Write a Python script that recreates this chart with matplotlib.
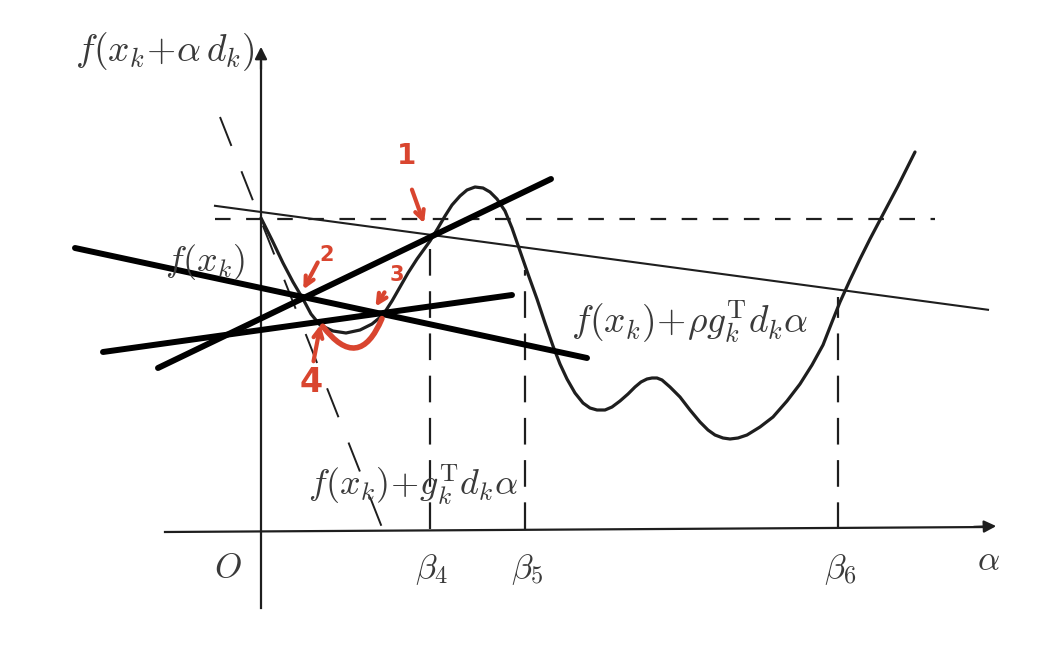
import matplotlib.pyplot as plt

plt.rcParams['mathtext.fontset'] = 'cm'

# diagram units: alpha to the right of O, f above the alpha axis (1 unit = 100 px)
curve_a = [0.00, 0.11, 0.22, 0.32, 0.42, 0.50, 0.59, 0.72, 0.85, 0.99, 1.11, 1.22,
           1.31, 1.39, 1.47, 1.56, 1.69, 1.77, 1.84, 1.91, 1.99, 2.06, 2.14, 2.22,
           2.29, 2.36, 2.44, 2.51, 2.59, 2.67, 2.76, 2.84, 2.92, 2.99, 3.06, 3.14,
           3.22, 3.29, 3.36, 3.44, 3.51, 3.59, 3.67, 3.74, 3.80, 3.86, 3.91, 3.96,
           4.01, 4.09, 4.19, 4.29, 4.39, 4.47, 4.54, 4.62, 4.69, 4.77, 4.86, 4.99,
           5.12, 5.26, 5.39, 5.51, 5.62, 5.71, 5.79, 5.89, 5.99, 6.09, 6.19, 6.37, 6.54]
curve_f = [3.14, 2.92, 2.69, 2.50, 2.33, 2.18, 2.07, 2.01, 1.99, 2.02, 2.08, 2.17,
           2.31, 2.45, 2.59, 2.73, 2.91, 3.04, 3.16, 3.27, 3.36, 3.42, 3.45, 3.44,
           3.40, 3.33, 3.21, 3.04, 2.81, 2.58, 2.33, 2.09, 1.86, 1.68, 1.53, 1.39,
           1.29, 1.24, 1.22, 1.22, 1.25, 1.31, 1.38, 1.45, 1.50, 1.53, 1.54, 1.54,
           1.52, 1.45, 1.35, 1.22, 1.10, 1.02, 0.97, 0.94, 0.93, 0.94, 0.97, 1.05,
           1.15, 1.31, 1.48, 1.67, 1.87, 2.10, 2.30, 2.52, 2.73, 2.93, 3.12, 3.46, 3.80]

f0 = 3.13            # f(x_k)
rho_slope = -0.1345  # slope of f(x_k) + rho g^T d alpha
tan_a = [-0.41, 1.22]   # tangent line f(x_k) + g^T d alpha
tan_f = [4.15, 0.02]
beta_a = [1.69, 2.64, 5.77]
beta_top = [2.90, 2.62, 2.35]
beta_names = [r'$\beta_4$', r'$\beta_5$', r'$\beta_6$']

# hand-drawn black strokes and red notes
stroke_a = [[-1.86, 3.26], [-1.03, 2.90], [-1.58, 2.51]]
stroke_f = [[2.84, 1.74], [1.64, 3.53], [1.80, 2.37]]
red = '#d9452f'
gray = '#1e1e1e'
txt = '#3a3a3a'

fig = plt.figure(figsize=(10.62, 6.59), dpi=100)
ax = fig.add_axes([0, 0, 1, 1])
ax.set_xlim(-2.61, 8.01)
ax.set_ylim(-1.27, 5.32)
ax.axis('off')

# axes with arrows
ax.plot([-0.96, 7.30], [0.0, 0.05], color=gray, lw=1.6)
ax.annotate('', xy=(7.38, 0.06), xytext=(7.10, 0.05),
            arrowprops=dict(arrowstyle='-|>', color=gray, lw=1.6, mutation_scale=18))
ax.plot([0, 0], [-0.76, 4.70], color=gray, lw=1.6)
ax.annotate('', xy=(0, 4.88), xytext=(0, 4.60),
            arrowprops=dict(arrowstyle='-|>', color=gray, lw=1.6, mutation_scale=18))

# f(x_k) level and sufficient-decrease line
ax.plot([-0.46, 6.74], [f0, f0], color=gray, lw=1.6, dashes=(7, 7))
ax.plot([-0.46, 7.27], [f0 + 0.07 - rho_slope * 0.46, f0 + 0.07 + rho_slope * 7.27],
        color=gray, lw=1.5)
ax.plot(tan_a, tan_f, color=gray, lw=1.4, dashes=(16, 14))

for a, top in zip(beta_a, beta_top):
    ax.plot([a, a], [0.03, top], color=gray, lw=1.6, dashes=(12, 7))

ax.plot(curve_a, curve_f, color=gray, lw=2.3, solid_capstyle='round',
        solid_joinstyle='round')

# labels
ax.text(-0.96, 4.80, r'$f(x_k\!+\!\alpha\, d_k)$', fontsize=27, color=txt, ha='center', va='center')
ax.text(-0.56, 2.70, r'$f(x_k)$', fontsize=26, color=txt, ha='center', va='center')
ax.text(-0.33, -0.35, r'$O$', fontsize=25, color=txt, ha='center', va='center')
for a, name in zip(beta_a, beta_names):
    ax.text(a + 0.02, -0.38, name, fontsize=25, color=txt, ha='center', va='center')
ax.text(7.27, -0.28, r'$\alpha$', fontsize=25, color=txt, ha='center', va='center')
ax.text(4.29, 2.10, r'$f(x_k)\!+\!\rho g_k^{\rm T}d_k\alpha$', fontsize=27, color=txt,
        ha='center', va='center')
ax.text(1.52, 0.47, r'$f(x_k)\!+\!g_k^{\rm T}d_k\alpha$', fontsize=26, color=txt,
        ha='center', va='center')

for xs, ys in zip(stroke_a, stroke_f):
    ax.plot(xs, ys, color='black', lw=4.3, solid_capstyle='round')

# red notes
ax.annotate('', xy=(1.64, 3.06), xytext=(1.50, 3.45),
            arrowprops=dict(arrowstyle='->', color=red, lw=3, mutation_scale=16))
ax.annotate('', xy=(0.41, 2.40), xytext=(0.58, 2.72),
            arrowprops=dict(arrowstyle='->', color=red, lw=3, mutation_scale=16))
ax.annotate('', xy=(1.13, 2.23), xytext=(1.25, 2.42),
            arrowprops=dict(arrowstyle='->', color=red, lw=3, mutation_scale=16))
ax.annotate('', xy=(0.60, 2.10), xytext=(0.52, 1.68),
            arrowprops=dict(arrowstyle='->', color=red, lw=3, mutation_scale=16))
ax.annotate('', xy=(1.22, 2.16), xytext=(0.60, 2.08),
            arrowprops=dict(arrowstyle='-', color=red, lw=4,
                            connectionstyle='arc3,rad=0.9'))
ax.text(1.46, 3.76, '1', fontsize=20, color=red, ha='center', va='center', fontweight='bold')
ax.text(0.66, 2.77, '2', fontsize=15, color=red, ha='center', va='center', fontweight='bold')
ax.text(1.36, 2.57, '3', fontsize=15, color=red, ha='center', va='center', fontweight='bold')
ax.text(0.50, 1.49, '4', fontsize=24, color=red, ha='center', va='center', fontweight='bold')

fig.savefig('out.png', dpi=100)
